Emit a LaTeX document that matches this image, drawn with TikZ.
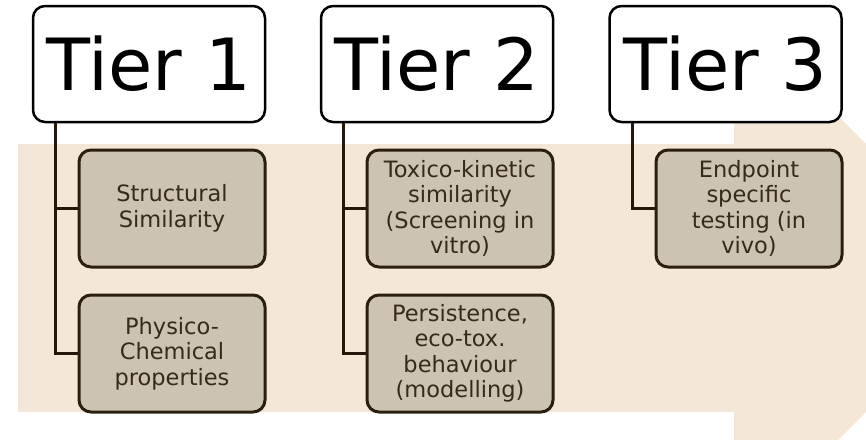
\documentclass[tikz,border=0pt]{standalone}
\usepackage{fontspec}
\setmainfont{DejaVu Sans}
\definecolor{bgarrow}{HTML}{F4E7D7}
\definecolor{subfill}{HTML}{CDC3B3}
\definecolor{subline}{HTML}{2A1E10}
\definecolor{subtext}{HTML}{352A1E}
\definecolor{connline}{HTML}{23170B}
\tikzset{
  tierbox/.style={draw=black, fill=white, line width=2.5pt, rounded corners=12pt,
    minimum width=232pt, minimum height=116pt, inner sep=0pt,
    font=\fontsize{72}{80}\selectfont},
  subbox/.style={draw=subline, fill=subfill, line width=3pt, rounded corners=12pt,
    minimum width=186pt, minimum height=117pt, inner sep=0pt, align=center,
    text=subtext, font=\fontsize{22.5}{25.5}\selectfont},
  conn/.style={draw=connline, line width=3pt},
}
\begin{document}
\begin{tikzpicture}[x=1pt, y=-1pt]
\useasboundingbox (0,0) rectangle (866,439);
\begin{scope}
\clip (0,0) rectangle (866,439);
\fill[bgarrow] (18,144) -- (734,144) -- (734,12) -- (1000,278) -- (734,544) -- (734,412) -- (18,412) -- cycle;
\end{scope}
% Tier boxes
\node[tierbox] (t1) at (149,64) {Tier 1};
\node[tierbox] (t2) at (437,64) {Tier 2};
\node[tierbox] (t3) at (725.5,64) {Tier 3};
% Sub boxes
\node[subbox] (s11) at (172,208.5) {Structural\\Similarity};
\node[subbox] (s12) at (172,353.5) {Physico-\\Chemical\\properties};
\node[subbox] (s21) at (460,208.5) {Toxico-kinetic\\similarity\\(Screening in\\vitro)};
\node[subbox] (s22) at (460,353.5) {Persistence,\\eco-tox.\\behaviour\\(modelling)};
\node[subbox] (s31) at (749,208.5) {Endpoint\\specific\\testing (in\\vivo)};
% Connectors
\draw[conn] ([xshift=24pt]t1.south west) |- (s11.west);
\draw[conn] ([xshift=24pt]t1.south west) |- (s12.west);
\draw[conn] ([xshift=24pt]t2.south west) |- (s21.west);
\draw[conn] ([xshift=24pt]t2.south west) |- (s22.west);
\draw[conn] ([xshift=24pt]t3.south west) |- (s31.west);
\end{tikzpicture}
\end{document}
